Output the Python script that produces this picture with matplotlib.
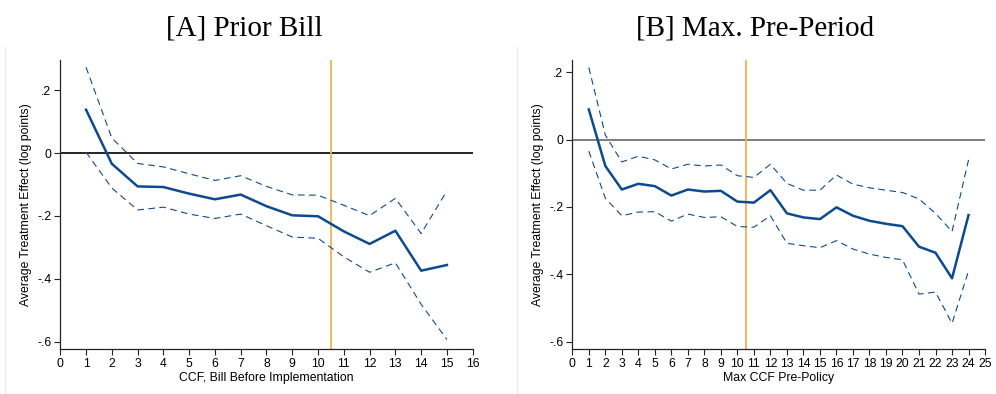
import numpy as np
import matplotlib
matplotlib.use("Agg")
import matplotlib.pyplot as plt
from matplotlib.lines import Line2D

plt.rcParams['font.family'] = ['Liberation Sans', 'DejaVu Sans']

# panel A: prior bill
xa = [1, 2, 3, 4, 5, 6, 7, 8, 9, 10, 11, 12, 13, 14, 15]
est_a = [0.138, -0.034, -0.106, -0.108, -0.129, -0.147, -0.132, -0.169, -0.198,
         -0.201, -0.249, -0.289, -0.247, -0.374, -0.356]
hi_a = [0.273, 0.048, -0.033, -0.044, -0.066, -0.087, -0.072, -0.106, -0.133,
        -0.134, -0.166, -0.199, -0.144, -0.256, -0.120]
lo_a = [0.003, -0.111, -0.181, -0.172, -0.194, -0.208, -0.194, -0.231, -0.267,
        -0.271, -0.330, -0.379, -0.349, -0.481, -0.593]

# panel B: max pre-period
xb = list(range(1, 25))
est_b = [0.090, -0.078, -0.148, -0.131, -0.138, -0.166, -0.148, -0.154, -0.152,
         -0.184, -0.187, -0.150, -0.219, -0.231, -0.236, -0.201, -0.226, -0.241,
         -0.250, -0.257, -0.318, -0.336, -0.412, -0.224]
hi_b = [0.215, 0.014, -0.066, -0.049, -0.060, -0.087, -0.073, -0.078, -0.075,
        -0.107, -0.112, -0.073, -0.130, -0.150, -0.150, -0.105, -0.132, -0.143,
        -0.150, -0.157, -0.176, -0.219, -0.273, -0.060]
lo_b = [-0.034, -0.174, -0.226, -0.215, -0.214, -0.242, -0.221, -0.231, -0.229,
        -0.258, -0.260, -0.226, -0.308, -0.315, -0.321, -0.300, -0.325, -0.340,
        -0.350, -0.357, -0.459, -0.453, -0.546, -0.390]

cutoff = 10.5
yticks = [-0.6, -0.4, -0.2, 0, 0.2]
ylabels = ['-.6', '-.4', '-.2', '0', '.2']

navy = '#0d4a8e'
orange = '#f0b44c'

fig = plt.figure(figsize=(9.96, 3.94), dpi=100)


def panel(rect, x, est, hi, lo, xmax, ylim, xlabel, title, title_x, zero_col):
    ax = fig.add_axes(rect)
    ax.axhline(0, color=zero_col, lw=1.2, zorder=1)
    ax.axvline(cutoff, color=orange, lw=1.3, zorder=2)
    ax.plot(x, hi, color=navy, lw=0.8, dashes=(6, 4), zorder=3)
    ax.plot(x, lo, color=navy, lw=0.8, dashes=(6, 4), zorder=3)
    ax.plot(x, est, color=navy, lw=1.8, zorder=4)
    ax.set_xlim(0, xmax)
    ax.set_ylim(*ylim)
    ax.set_xticks(range(0, xmax + 1))
    ax.set_yticks(yticks)
    ax.set_yticklabels(ylabels)
    for s in ['top', 'right']:
        ax.spines[s].set_visible(False)
    for s in ['left', 'bottom']:
        ax.spines[s].set_color('#222222')
        ax.spines[s].set_linewidth(0.9)
    ax.tick_params(axis='both', length=4.5, width=0.8, color='#222222',
                   labelsize=8.8, pad=2)
    ax.set_xlabel(xlabel, fontsize=8.8, labelpad=1)
    ax.set_ylabel('Average Treatment Effect (log points)', fontsize=8.8, labelpad=4)
    fig.text(title_x, 1 - 29 / 394, title, ha='center', va='center',
             fontsize=21, family='Liberation Serif')
    return ax


panel([0.0605, 0.1135, 0.4141, 0.7342], xa, est_a, hi_a, lo_a, 16, (-0.624, 0.296),
      'CCF, Bill Before Implementation', '[A] Prior Bill', 244.5 / 996, 'black')
panel([0.5746, 0.1135, 0.4144, 0.7342], xb, est_b, hi_b, lo_b, 25, (-0.623, 0.237),
      'Max CCF Pre-Policy', '[B] Max. Pre-Period', 755.5 / 996, '#666666')

# faint borders of the two graph panels
for px in [4.5, 516.5]:
    fig.add_artist(Line2D([px / 996, px / 996], [0, 1 - 47 / 394],
                          transform=fig.transFigure, color='#e4edf2', lw=1))

fig.savefig('out.png', dpi=100)
